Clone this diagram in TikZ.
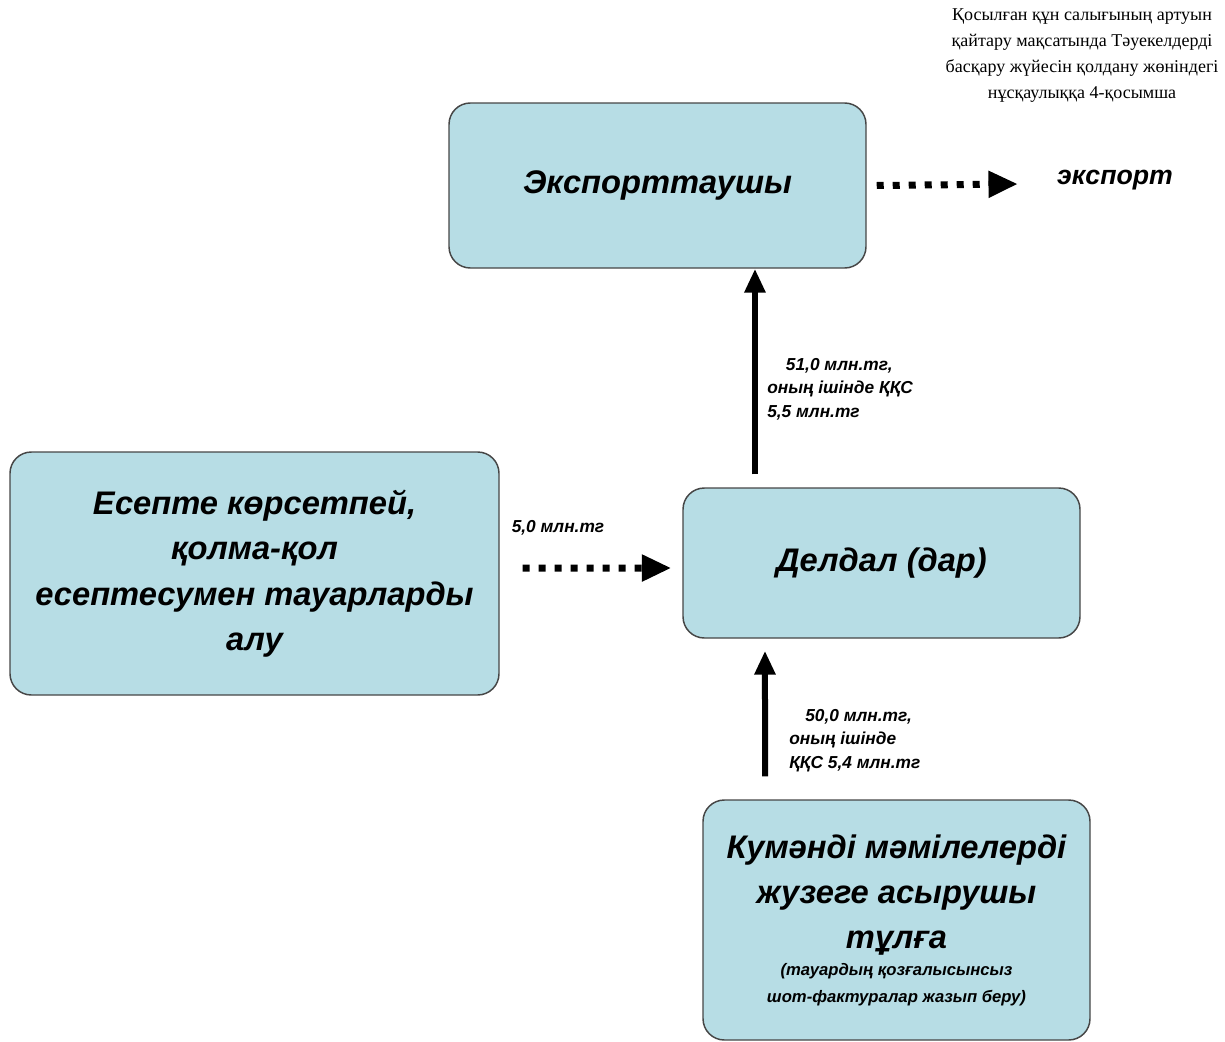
\documentclass[tikz,border=0pt]{standalone}
\usepackage{fontspec}
\setmainfont{Liberation Sans}
\newfontfamily\serifcyr{Liberation Serif}
\usepackage{tikz}
\usetikzlibrary{arrows.meta}
\definecolor{boxblue}{RGB}{183,221,229}
\definecolor{boxedge}{RGB}{70,70,70}
\newcommand{\smalltxt}{\fontsize{12.5}{19}\selectfont}

\begin{document}
\begin{tikzpicture}[x=0.75pt, y=-0.75pt,
    box/.style={draw=boxedge, line width=1.1pt, fill=boxblue, rounded corners=16pt, align=center, inner sep=4pt, font=\fontsize{24.5}{34}\selectfont\bfseries\itshape},
    lbl/.style={align=left, inner sep=0pt, font=\fontsize{13}{17.5}\selectfont\bfseries\itshape},
    solidarrow/.style={line width=4.5pt, -{Triangle[length=18pt, width=15pt]}},
    dotarrow/.style={line width=5.25pt, dash pattern=on 5.25pt off 6.75pt, -{Triangle[length=22pt, width=19pt]}}]
            \useasboundingbox (0, 0) rectangle (1225, 1042);

            \node[box, minimum width=312.75pt, minimum height=123.75pt] at (657.5, 185.5) (exp) {Экспорттаушы};
            \node[box, minimum width=366.75pt, minimum height=182.25pt] at (254.5, 573.5) (buy) {Есепте көрсетпей,\\ қолма-қол\\ есептесумен тауарларды\\ алу};
            \node[box, minimum width=297.75pt, minimum height=112.5pt] at (881.5, 563) (mid) {Делдал (дар)};
            \node[box, minimum width=290.25pt, minimum height=180pt] at (896.5, 920) (doubt) {Кумәнді мәмілелерді\\ жузеге асырушы\\ тұлға\\[-14pt] \smalltxt (тауардың қозғалысынсыз\\[-14pt] \smalltxt шот-фактуралар жазып беру)};
            \node[font=\fontsize{20}{24}\selectfont\bfseries\itshape] at (1115, 180) (out) {экспорт};
            \node[align=center, font=\serifcyr\fontsize{13.5}{19.5}\selectfont] at (1082, 56) (note) {Қосылған құн салығының артуын\\ қайтару мақсатында Тәуекелдерді\\ басқару жүйесін қолдану жөніндегі\\ нұсқаулыққа 4-қосымша};

            \node[lbl, anchor=north west] at (767, 358) (uplbl) {\hspace*{14pt}51,0 млн.тг,\\ оның ішінде ҚҚС\\ 5,5 млн.тг};
            \node[lbl, anchor=north west] at (789, 709) (lowlbl) {\hspace*{12pt}50,0 млн.тг,\\ оның ішінде\\ ҚҚС 5,4 млн.тг};
            \node[lbl] at (558, 528) (sidelbl) {5,0 млн.тг};

            \draw [dotarrow] ([xshift=7.5pt]exp.east) -- ([xshift=-26pt, yshift=-3pt]out.west);
            \draw [dotarrow] ([xshift=17.25pt, yshift=4pt]buy.east) -- ([xshift=-8.25pt, yshift=-3.75pt]mid.west);
            \draw [solidarrow] ([xshift=-94.9pt, yshift=9.75pt]mid.north) -- ([xshift=73.1pt]exp.south);
            \draw [solidarrow] ([xshift=-98.6pt, yshift=17.25pt]doubt.north) -- ([xshift=-87.4pt, yshift=-9pt]mid.south);
        \end{tikzpicture}
\end{document}
